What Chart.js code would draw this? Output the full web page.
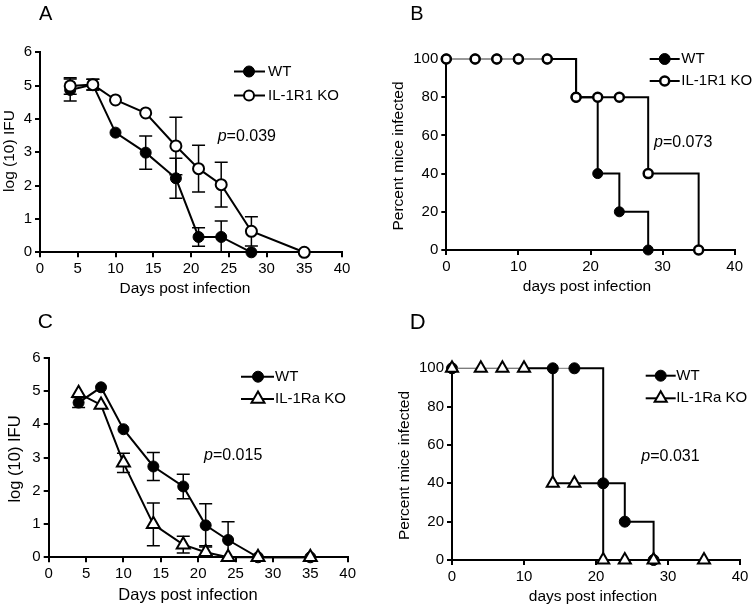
<!DOCTYPE html>
<html>
<head>
<meta charset="utf-8">
<script src="https://cdn.jsdelivr.net/npm/chart.js@4.4.1/dist/chart.umd.min.js"></script>
<style>
  body { margin: 0; background: #fff; }
  #wrap { position: relative; width: 756px; height: 609px; }
  canvas { position: absolute; }
</style>
</head>
<body>
<div id="wrap">
  <canvas id="cA" style="left:0;top:0;width:378px;height:300px" width="378" height="300"></canvas>
  <canvas id="cB" style="left:378px;top:0;width:378px;height:300px" width="378" height="300"></canvas>
  <canvas id="cC" style="left:0;top:300px;width:378px;height:309px" width="378" height="309"></canvas>
  <canvas id="cD" style="left:378px;top:300px;width:378px;height:309px" width="378" height="309"></canvas>
</div>
<script>
// A - log(10) IFU, WT vs IL-1R1 KO
const daysA_wt = [4, 7, 10, 14, 18, 21, 24, 28];
const ifuA_wt = [4.87, 5.03, 3.59, 2.99, 2.22, 0.46, 0.46, 0];
const errA_wt = [0.33, 0.16, 0, 0.5, 0.6, 0.28, 0.48, 0];
const daysA_ko = [4, 7, 10, 14, 18, 21, 24, 28, 35];
const ifuA_ko = [4.99, 5.03, 4.57, 4.18, 3.19, 2.51, 2.03, 0.63, 0];
const errA_ko = [0.25, 0.16, 0, 0, 0.86, 0.7, 0.67, 0.44, 0];

// B - percent mice infected, WT vs IL-1R1 KO
const daysB_wt = [0, 4, 7, 10, 14, 18, 21, 24, 28];
const pctB_wt = [100, 100, 100, 100, 100, 80, 40, 20, 0];
const daysB_ko = [0, 4, 7, 10, 14, 18, 21, 24, 28, 35];
const pctB_ko = [100, 100, 100, 100, 100, 80, 80, 80, 40, 0];

// C - log(10) IFU, WT vs IL-1Ra KO
const daysC_wt = [4, 7, 10, 14, 18, 21, 24, 28, 35];
const ifuC_wt = [4.65, 5.11, 3.85, 2.73, 2.13, 0.96, 0.52, 0, 0];
const errC_wt = [0.15, 0, 0, 0.42, 0.37, 0.65, 0.55, 0, 0];
const daysC_ko = [4, 7, 10, 14, 18, 21, 24, 28, 35];
const ifuC_ko = [4.93, 4.58, 2.84, 0.99, 0.38, 0.15, 0, 0, 0];
const errC_ko = [0, 0, 0.29, 0.64, 0.25, 0.2, 0, 0, 0];

// D - percent mice infected, WT vs IL-1Ra KO
const daysD_wt = [0, 14, 17, 21, 24, 28];
const pctD_wt = [100, 100, 100, 40, 20, 0];
const daysD_ko = [0, 4, 7, 10, 14, 17, 21, 24, 28, 35];
const pctD_ko = [100, 100, 100, 100, 40, 40, 0, 0, 0, 0];

const ticksIFU = [0, 1, 2, 3, 4, 5, 6];
const ticksPct = [0, 20, 40, 60, 80, 100];

const FONT = "'Liberation Sans', Arial, Helvetica, sans-serif";

function pts(xs, ys) {
  return xs.map((x, i) => ({ x: x, y: ys[i] }));
}

function drawMarker(ctx, style, x, y, r, fill, bw) {
  ctx.beginPath();
  if (style === "triangle") {
    for (let k = 0; k < 3; k++) {
      const a = (k * 2 * Math.PI) / 3;
      const px = x + Math.sin(a) * r;
      const py = y - Math.cos(a) * r;
      if (k === 0) ctx.moveTo(px, py);
      else ctx.lineTo(px, py);
    }
    ctx.closePath();
  } else {
    ctx.arc(x, y, r, 0, Math.PI * 2);
  }
  ctx.fillStyle = fill;
  ctx.fill();
  ctx.lineWidth = bw;
  ctx.strokeStyle = "#000";
  ctx.stroke();
}

// error bars, drawn under the lines and markers
const errorBars = {
  id: "errorBars",
  beforeDatasetsDraw(chart) {
    const ctx = chart.ctx;
    const yScale = chart.scales.y;
    chart.data.datasets.forEach((ds, i) => {
      if (!ds.errors) return;
      const meta = chart.getDatasetMeta(i);
      meta.data.forEach((pt, j) => {
        const e = ds.errors[j];
        if (!e) return;
        const v = ds.data[j].y;
        const top = yScale.getPixelForValue(v + e);
        const bot = yScale.getPixelForValue(Math.max(v - e, 0));
        ctx.save();
        ctx.strokeStyle = "#000";
        ctx.lineWidth = 1.5;
        ctx.beginPath();
        ctx.moveTo(pt.x, top);
        ctx.lineTo(pt.x, bot);
        ctx.moveTo(pt.x - 6.5, top);
        ctx.lineTo(pt.x + 6.5, top);
        if (v - e > 0) {
          ctx.moveTo(pt.x - 6.5, bot);
          ctx.lineTo(pt.x + 6.5, bot);
        }
        ctx.stroke();
        ctx.restore();
      });
    });
  },
};

// panel letter, axis titles, legend and p value
const panelText = {
  id: "panelText",
  afterDraw(chart, args, o) {
    const ctx = chart.ctx;
    ctx.save();
    ctx.fillStyle = "#000";
    ctx.textBaseline = "alphabetic";
    ctx.textAlign = "left";
    ctx.font = o.letterSize + "px " + FONT;
    ctx.fillText(o.letter, o.letterX, o.letterY);

    ctx.font = o.titleSize + "px " + FONT;
    ctx.textAlign = "center";
    ctx.textBaseline = "middle";
    ctx.fillText(o.xTitle, o.xTitleX, o.xTitleY);
    ctx.save();
    ctx.translate(o.yTitleX, o.yTitleY);
    ctx.rotate(-Math.PI / 2);
    ctx.fillText(o.yTitle, 0, 0);
    ctx.restore();

    // legend
    const lg = o.legend;
    chart.data.datasets.forEach((ds, i) => {
      const y = lg.rows[i];
      ctx.strokeStyle = "#000";
      ctx.lineWidth = 2;
      ctx.beginPath();
      ctx.moveTo(lg.x0, y);
      ctx.lineTo(lg.x1, y);
      ctx.stroke();
      drawMarker(ctx, ds.pointStyle, lg.mx, y, ds.legendRadius, ds.pointBackgroundColor, ds.pointBorderWidth);
      ctx.fillStyle = "#000";
      ctx.font = "15px " + FONT;
      ctx.textAlign = "left";
      ctx.textBaseline = "middle";
      ctx.fillText(ds.label, lg.tx, y);
    });

    // p value
    ctx.textAlign = "left";
    ctx.textBaseline = "middle";
    ctx.font = "italic 16px " + FONT;
    ctx.fillText("p", o.pX, o.pY);
    const w = ctx.measureText("p").width;
    ctx.font = "16px " + FONT;
    ctx.fillText(o.pText, o.pX + w, o.pY);
    ctx.restore();
  },
};

function makeChart(id, datasets, cfg) {
  return new Chart(document.getElementById(id), {
    type: "line",
    data: { datasets: datasets },
    plugins: [errorBars, panelText],
    options: {
      responsive: false,
      animation: false,
      events: [],
      layout: { padding: { left: 0, bottom: 0, top: cfg.padTop, right: cfg.padRight } },
      plugins: {
        legend: { display: false },
        tooltip: { enabled: false },
        panelText: cfg.text,
      },
      scales: {
        x: {
          type: "linear",
          min: 0,
          max: 40,
          afterFit: (s) => { s.height = cfg.xHeight; },
          border: { color: "#000", width: 2 },
          grid: { drawOnChartArea: false, color: "#000", lineWidth: 2, tickLength: 5 },
          ticks: { stepSize: cfg.xStep, color: "#000", padding: 3, maxRotation: 0, font: { family: FONT, size: 15 } },
        },
        y: {
          type: "linear",
          min: 0,
          max: cfg.yTicks[cfg.yTicks.length - 1],
          afterFit: (s) => { s.width = cfg.yWidth; },
          afterBuildTicks: (s) => { s.ticks = cfg.yTicks.map((v) => ({ value: v })); },
          border: { color: "#000", width: 2 },
          grid: { drawOnChartArea: false, color: "#000", lineWidth: 2, tickLength: 5 },
          ticks: { color: "#000", padding: 3, font: { family: FONT, size: 15 } },
        },
      },
    },
  });
}

// step lines: the 100% stretch is drawn thin and grey
const kmSegment = {
  borderWidth: (c) => (c.p0.parsed.y === 100 && c.p1.parsed.y === 100 ? 1 : 2),
  borderColor: (c) => (c.p0.parsed.y === 100 && c.p1.parsed.y === 100 ? "#777" : "#000"),
};

function wtSet(label, data, opts) {
  return Object.assign({
    label: label, data: data, order: 2, clip: false,
    borderColor: "#000", borderWidth: 2, tension: 0,
    pointStyle: "circle", pointRadius: 5.5, legendRadius: 5.5,
    pointBackgroundColor: "#000", pointBorderColor: "#000", pointBorderWidth: 1,
  }, opts);
}
function koSet(label, data, opts) {
  return Object.assign({
    label: label, data: data, order: 1, clip: false,
    borderColor: "#000", borderWidth: 2, tension: 0,
    pointStyle: "circle", pointRadius: 5.5, legendRadius: 5,
    pointBackgroundColor: "#fff", pointBorderColor: "#000", pointBorderWidth: 2,
  }, opts);
}

// A
makeChart("cA", [
  wtSet("WT", pts(daysA_wt, ifuA_wt), { errors: errA_wt }),
  koSet("IL-1R1 KO", pts(daysA_ko, ifuA_ko), { errors: errA_ko }),
], {
  padTop: 52.3, padRight: 36, xHeight: 47.7, yWidth: 40, xStep: 5, yTicks: ticksIFU,
  text: {
    letter: "A", letterX: 39, letterY: 20, letterSize: 20, titleSize: 15.5,
    xTitle: "Days post infection", xTitleX: 185, xTitleY: 289,
    yTitle: "log (10) IFU", yTitleX: 10, yTitleY: 151,
    legend: { x0: 234, x1: 265, mx: 249, tx: 268, rows: [71.5, 95.5] },
    pText: "=0.039", pX: 217.7, pY: 137,
  },
});

// B
makeChart("cB", [
  wtSet("WT", pts(daysB_wt, pctB_wt), { stepped: "before", segment: kmSegment, pointRadius: 5, legendRadius: 5.5 }),
  koSet("IL-1R1 KO", pts(daysB_ko, pctB_ko), { stepped: "before", segment: kmSegment, pointRadius: 4.5, pointBorderWidth: 2.5, legendRadius: 4.5 }),
], {
  padTop: 59, padRight: 21.3, xHeight: 50, yWidth: 68.3, xStep: 10, yTicks: ticksPct,
  text: {
    letter: "B", letterX: 32.3, letterY: 20, letterSize: 20, titleSize: 15.5,
    xTitle: "days post infection", xTitleX: 209, xTitleY: 287,
    yTitle: "Percent mice infected", yTitleX: 21, yTitleY: 156,
    legend: { x0: 271.7, x1: 301.7, mx: 286.7, tx: 303.3, rows: [59, 81] },
    pText: "=0.073", pX: 276, pY: 142.7,
  },
});

// C
makeChart("cC", [
  wtSet("WT", pts(daysC_wt, ifuC_wt), { errors: errC_wt }),
  koSet("IL-1Ra KO", pts(daysC_ko, ifuC_ko), { errors: errC_ko, pointStyle: "triangle", pointRadius: 7.5, legendRadius: 7.5 }),
], {
  padTop: 57.7, padRight: 30.3, xHeight: 51.7, yWidth: 48.7, xStep: 5, yTicks: ticksIFU,
  text: {
    letter: "C", letterX: 37.7, letterY: 27.7, letterSize: 21, titleSize: 16.5,
    xTitle: "Days post infection", xTitleX: 188, xTitleY: 295,
    yTitle: "log (10) IFU", yTitleX: 15.5, yTitleY: 159,
    legend: { x0: 241, x1: 274, mx: 258, tx: 275, rows: [76.7, 99] },
    pText: "=0.015", pX: 204, pY: 155.7,
  },
});

// D
makeChart("cD", [
  wtSet("WT", pts(daysD_wt, pctD_wt), { stepped: "before", segment: kmSegment, pointRadius: 5.5 }),
  koSet("IL-1Ra KO", pts(daysD_ko, pctD_ko), { stepped: "before", segment: kmSegment, pointStyle: "triangle", pointRadius: 7, legendRadius: 7 }),
], {
  padTop: 68.3, padRight: 16, xHeight: 49, yWidth: 74, xStep: 10, yTicks: ticksPct,
  text: {
    letter: "D", letterX: 31.7, letterY: 29.3, letterSize: 22, titleSize: 15.5,
    xTitle: "days post infection", xTitleX: 215, xTitleY: 297,
    yTitle: "Percent mice infected", yTitleX: 27, yTitleY: 165.5,
    legend: { x0: 267.7, x1: 297.7, mx: 282.7, tx: 298.3, rows: [75.7, 98.3] },
    pText: "=0.031", pX: 263.3, pY: 156.7,
  },
});
</script>
</body>
</html>
